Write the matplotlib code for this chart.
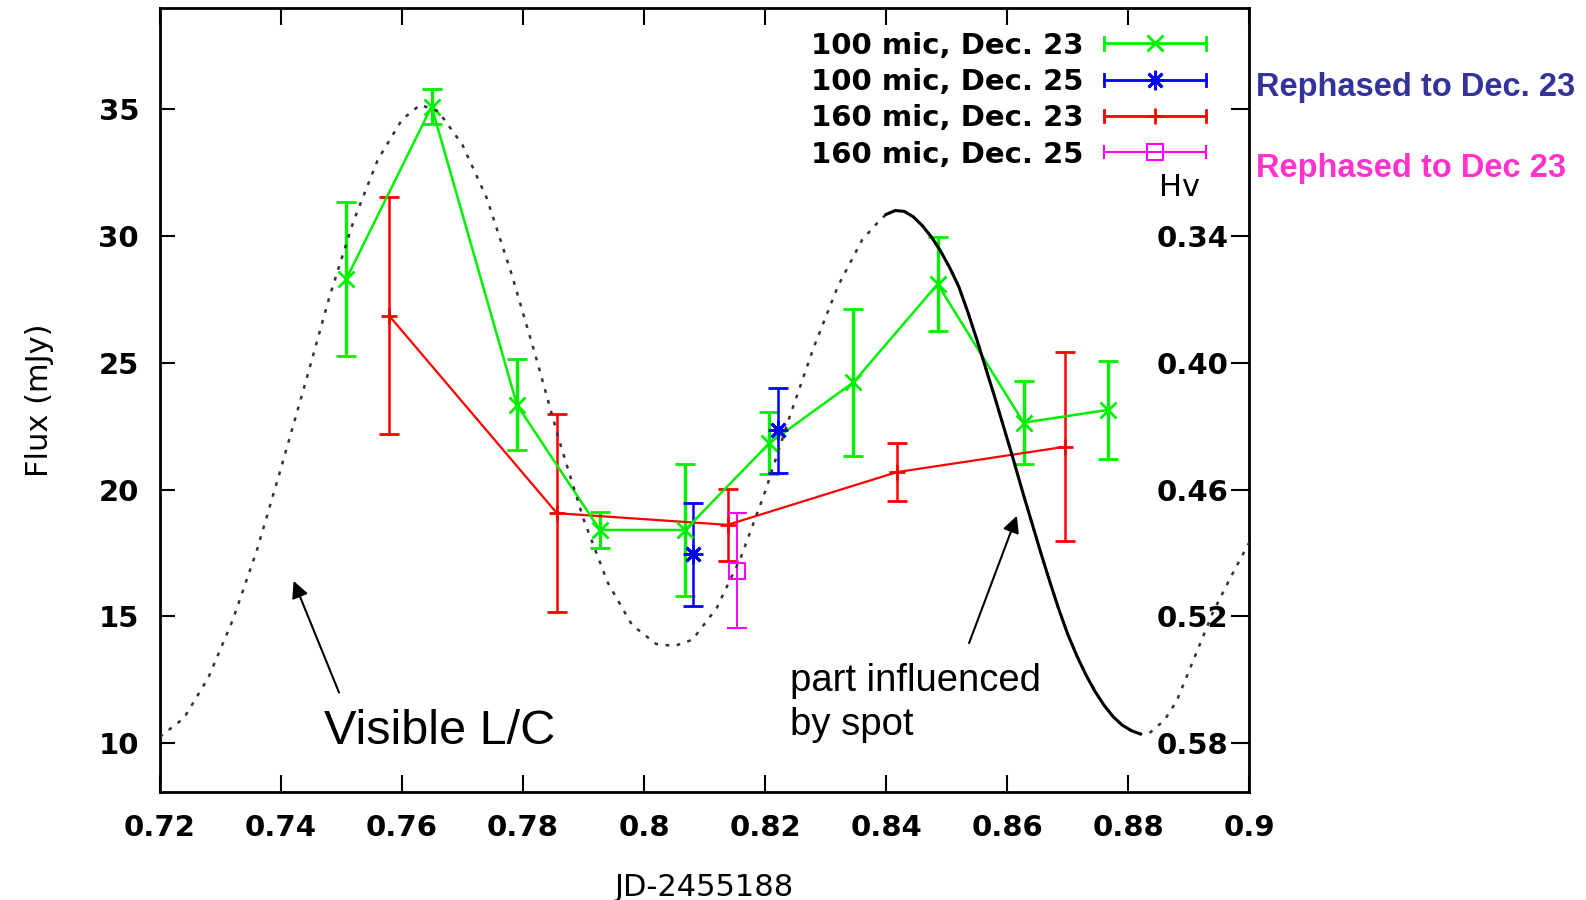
import matplotlib
matplotlib.use("Agg")
import matplotlib.pyplot as plt
import numpy as np
from matplotlib.lines import Line2D
from matplotlib.legend_handler import HandlerBase

# 100 micron, Dec. 23
g_x = [0.7508, 0.7649, 0.7790, 0.7927, 0.8068, 0.8207, 0.8346, 0.8485, 0.8627, 0.8766]
g_y = [28.30, 35.10, 23.34, 18.41, 18.41, 21.83, 24.23, 28.10, 22.64, 23.14]
g_err = [3.05, 0.70, 1.79, 0.71, 2.60, 1.22, 2.90, 1.85, 1.63, 1.94]

# 100 micron, Dec. 25 (rephased)
b_x = [0.8081, 0.8222]
b_y = [17.45, 22.33]
b_err = [2.03, 1.68]

# 160 micron, Dec. 23
r_x = [0.7579, 0.7856, 0.8138, 0.8418, 0.8696]
r_y = [26.85, 19.07, 18.61, 20.69, 21.69]
r_err = [4.67, 3.91, 1.42, 1.14, 3.72]

# 160 micron, Dec. 25 (rephased)
m_x = [0.8153]
m_y = [16.81]
m_err = [2.27]

# visible light curve (Hv, right axis)
lc_x = [0.7200, 0.7240, 0.7280, 0.7320, 0.7360, 0.7400, 0.7440, 0.7480, 0.7520, 0.7560,
        0.7600, 0.7630, 0.7660, 0.7700, 0.7740, 0.7780, 0.7820, 0.7860, 0.7900, 0.7940,
        0.7980, 0.8020, 0.8050, 0.8080, 0.8120, 0.8160, 0.8200, 0.8240, 0.8280, 0.8320,
        0.8360, 0.8385,
        0.8400, 0.8415, 0.8430, 0.8445, 0.8460, 0.8475, 0.8490, 0.8505, 0.8520, 0.8535,
        0.8550, 0.8565, 0.8580, 0.8595, 0.8610, 0.8625, 0.8640, 0.8655, 0.8670, 0.8685,
        0.8700, 0.8715, 0.8730, 0.8745, 0.8760, 0.8775, 0.8790, 0.8805, 0.8820,
        0.8835, 0.8860, 0.8880, 0.8900, 0.8940, 0.8970, 0.9000]
lc_hv = [0.577, 0.568, 0.549, 0.522, 0.489, 0.450, 0.410, 0.369, 0.333, 0.304,
         0.285, 0.278, 0.281, 0.297, 0.322, 0.357, 0.396, 0.437, 0.474, 0.504,
         0.524, 0.533, 0.534, 0.531, 0.516, 0.492, 0.461, 0.426, 0.393, 0.364,
         0.342, 0.334,
         0.3298, 0.3280, 0.3284, 0.3310, 0.3352, 0.3406, 0.3472, 0.3550, 0.3640, 0.3760,
         0.3892, 0.4030, 0.4168, 0.4312, 0.4456, 0.4606, 0.4750, 0.4894, 0.5032, 0.5164,
         0.5284, 0.5386, 0.5476, 0.5554, 0.5620, 0.5674, 0.5714, 0.5740, 0.5756,
         0.5752, 0.5690, 0.5600, 0.5460, 0.5180, 0.5010, 0.4850]
spot_range = (0.8400, 0.8825)

x_ticks = [0.72, 0.74, 0.76, 0.78, 0.8, 0.82, 0.84, 0.86, 0.88, 0.9]
x_labels = ["0.72", "0.74", "0.76", "0.78", "0.8", "0.82", "0.84", "0.86", "0.88", "0.9"]
y_ticks = [10, 15, 20, 25, 30, 35]
hv_ticks = [0.28, 0.34, 0.40, 0.46, 0.52, 0.58]
hv_labels = ["", "0.34", "0.40", "0.46", "0.52", "0.58"]

flux_lim = (8.08, 38.98)

GREEN = "#00f000"


def hv_of_flux(f):
    return 0.58 - (f - 10) * 0.012


plt.rcParams["font.family"] = ["DejaVu Sans"]
fig = plt.figure(figsize=(15.86, 9.0), dpi=100)
ax = fig.add_axes([0.1008, 0.12, 0.6869, 0.871])
ax2 = ax.twinx()

# light curve: dotted everywhere, solid where the spot matters
lc_x_a = np.array(lc_x)
lc_hv_a = np.array(lc_hv)
ax2.plot(lc_x_a, lc_hv_a, color="#333333", lw=1.8, linestyle=(0, (1.5, 3.0)))
sel = (lc_x_a >= spot_range[0]) & (lc_x_a <= spot_range[1])
ax2.plot(lc_x_a[sel], lc_hv_a[sel], color="black", lw=2.2, solid_joinstyle="round")

ax.errorbar(r_x, r_y, yerr=r_err, color="#ff0000", marker="+", ms=12, mew=2, lw=1.6,
            capsize=7, capthick=1.8, elinewidth=1.8)
ax.errorbar(g_x, g_y, yerr=g_err, color=GREEN, marker="x", ms=12, mew=2, lw=1.8,
            capsize=7, capthick=2.4, elinewidth=2.4)
ax.errorbar(b_x, b_y, yerr=b_err, color="#0000ff", marker=(8, 2, 0), ms=14, mew=2,
            linestyle="none", capsize=7, capthick=1.8, elinewidth=1.8)
ax.errorbar(m_x, m_y, yerr=m_err, color="#ff00ff", marker="s", ms=11, mfc="none", mew=1.5,
            linestyle="none", capsize=7, capthick=1.4, elinewidth=1.4)

ax.set_xlim(0.72, 0.9)
ax.set_ylim(*flux_lim)
ax2.set_ylim(hv_of_flux(flux_lim[0]), hv_of_flux(flux_lim[1]))

ax.set_xticks(x_ticks)
ax.set_xticklabels(x_labels, fontweight="bold")
ax.set_yticks(y_ticks)
ax.set_yticklabels([str(v) for v in y_ticks], fontweight="bold")
ax.tick_params(axis="x", direction="in", top=True, length=12, width=1.5, labelsize=21, pad=16)
ax.tick_params(axis="y", direction="in", length=11, width=1.5, labelsize=21, pad=15)

ax2.set_yticks(hv_ticks)
ax2.set_yticklabels(hv_labels, fontweight="bold")
ax2.tick_params(axis="y", direction="in", length=13, width=1.5, labelsize=21, pad=-15)
for t in ax2.get_yticklabels():
    t.set_horizontalalignment("right")

for sp in ax.spines.values():
    sp.set_linewidth(2)

ax.set_xlabel("JD-2455188", fontsize=22, labelpad=22)
ax.set_ylabel("Flux (mJy)", fontsize=22, labelpad=32)
ax.text(0.8884, 31.9, "Hv", fontsize=22, ha="center", va="center")


class ErrLineHandler(HandlerBase):
    def create_artists(self, legend, orig_handle, xdescent, ydescent, width, height, fontsize, trans):
        y = height / 2 - ydescent
        x0, x1 = -xdescent, width - xdescent
        c = orig_handle.get_color()
        lw = orig_handle.get_linewidth()
        h = height * 0.3
        arts = [Line2D([x0, x1], [y, y], color=c, lw=lw),
                Line2D([x0, x0], [y - h, y + h], color=c, lw=lw),
                Line2D([x1, x1], [y - h, y + h], color=c, lw=lw),
                Line2D([(x0 + x1) / 2], [y], color=c, marker=orig_handle.get_marker(),
                       ms=orig_handle.get_markersize(), mew=orig_handle.get_markeredgewidth(),
                       mfc=orig_handle.get_markerfacecolor())]
        for a in arts:
            a.set_transform(trans)
        return arts


handles = [
    Line2D([], [], color=GREEN, lw=2, marker="x", ms=12, mew=2),
    Line2D([], [], color="#0000ff", lw=2, marker=(8, 2, 0), ms=14, mew=2),
    Line2D([], [], color="#ff0000", lw=2, marker="+", ms=12, mew=2),
    Line2D([], [], color="#ff00ff", lw=1.5, marker="s", ms=11, mew=1.5, mfc="none"),
]
labels = ["100 mic, Dec. 23", "100 mic, Dec. 25", "160 mic, Dec. 23", "160 mic, Dec. 25"]
ax.legend(handles, labels, handler_map={Line2D: ErrLineHandler()}, loc="upper right",
          bbox_to_anchor=(0.960, 0.970), frameon=False, markerfirst=False,
          prop={"size": 21, "weight": "bold"},
          borderpad=0, borderaxespad=0, labelspacing=0.285, handlelength=3.5,
          handletextpad=0.7)

fig.text(0.792, 0.903, "Rephased to Dec. 23", color="#333399", fontsize=23.5,
         fontweight="bold", family="Liberation Sans", va="center")
fig.text(0.792, 0.813, "Rephased to Dec 23", color="#ff33cc", fontsize=23.5,
         fontweight="bold", family="Liberation Sans", va="center")

arrow_kw = dict(arrowstyle="-|>", color="black", lw=1.5, mutation_scale=25,
                shrinkA=0, shrinkB=0)
ax.text(0.7471, 10.45, "Visible L/C", fontsize=35, family="Liberation Sans",
        ha="left", va="center")
ax.annotate("", xy=(0.7421, 16.4), xytext=(0.7496, 12.0), arrowprops=arrow_kw)
ax.text(0.8241, 11.6, "part influenced\nby spot", fontsize=27.5, family="Liberation Sans",
        ha="left", va="center", linespacing=1.3)
ax.annotate("", xy=(0.8616, 18.97), xytext=(0.8537, 13.95), arrowprops=arrow_kw)

fig.savefig("out.png", dpi=100)
